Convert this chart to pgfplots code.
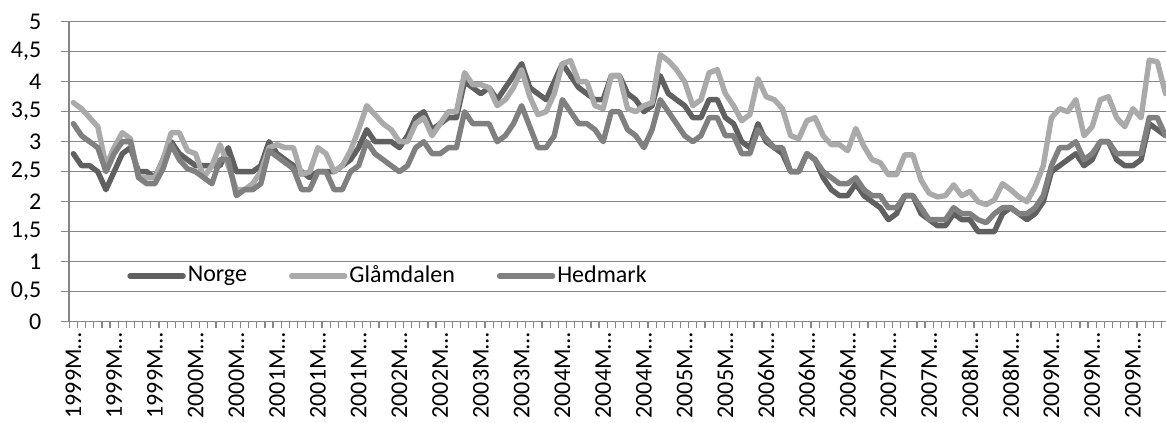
\documentclass[border=0pt]{standalone}
\usepackage{pgfplots}
\pgfplotsset{compat=1.18}
\usepackage{pgfplotstable}
\usepackage{fontspec}
\setmainfont{Carlito}
\usetikzlibrary{calc}

\definecolor{norge}{RGB}{96,96,96}
\definecolor{glam}{RGB}{170,170,170}
\definecolor{hedm}{RGB}{128,128,128}
\definecolor{gridc}{RGB}{134,134,134}

% ledighet i prosent, 1999M01 = 1
\pgfplotstableread{
m N G H
1 2.8 3.65 3.3
2 2.6 3.55 3.1
3 2.6 3.4 3.0
4 2.5 3.25 2.9
5 2.2 2.6 2.5
6 2.5 2.9 2.8
7 2.8 3.15 3.0
8 2.9 3.05 3.0
9 2.5 2.4 2.4
10 2.5 2.4 2.3
11 2.4 2.4 2.3
12 2.7 2.7 2.55
13 3.0 3.15 2.95
14 2.8 3.15 2.7
15 2.7 2.85 2.55
16 2.6 2.8 2.5
17 2.6 2.4 2.4
18 2.6 2.6 2.3
19 2.6 2.95 2.7
20 2.9 2.6 2.7
21 2.5 2.2 2.1
22 2.5 2.2 2.2
23 2.5 2.3 2.2
24 2.6 2.5 2.3
25 3.0 2.9 2.85
26 2.8 2.95 2.75
27 2.7 2.9 2.65
28 2.6 2.9 2.55
29 2.5 2.45 2.2
30 2.4 2.5 2.2
31 2.5 2.9 2.5
32 2.5 2.8 2.5
33 2.5 2.5 2.2
34 2.6 2.6 2.2
35 2.7 2.85 2.5
36 2.9 3.2 2.6
37 3.2 3.6 3.0
38 3.0 3.45 2.8
39 3.0 3.3 2.7
40 3.0 3.2 2.6
41 2.9 3.0 2.5
42 3.1 3.0 2.6
43 3.4 3.3 2.9
44 3.5 3.4 3.0
45 3.2 3.1 2.8
46 3.3 3.3 2.8
47 3.4 3.5 2.9
48 3.4 3.5 2.9
49 4.0 4.15 3.5
50 3.9 3.95 3.3
51 3.8 3.95 3.3
52 3.9 3.9 3.3
53 3.7 3.6 3.0
54 3.9 3.7 3.1
55 4.1 3.9 3.3
56 4.3 4.2 3.6
57 3.9 3.75 3.25
58 3.8 3.45 2.9
59 3.7 3.5 2.9
60 4.0 3.8 3.1
61 4.3 4.3 3.7
62 4.1 4.35 3.5
63 3.9 4.0 3.3
64 3.8 4.0 3.3
65 3.7 3.6 3.2
66 3.7 3.55 3.0
67 4.1 4.1 3.5
68 4.1 4.1 3.5
69 3.8 3.55 3.2
70 3.7 3.5 3.1
71 3.5 3.6 2.9
72 3.6 3.65 3.2
73 4.1 4.45 3.7
74 3.8 4.35 3.5
75 3.7 4.2 3.3
76 3.6 4.0 3.1
77 3.4 3.6 3.0
78 3.4 3.7 3.1
79 3.7 4.15 3.4
80 3.7 4.2 3.4
81 3.4 3.8 3.1
82 3.3 3.6 3.1
83 3.0 3.35 2.8
84 2.9 3.45 2.8
85 3.3 4.05 3.2
86 3.0 3.75 3.05
87 2.9 3.7 2.9
88 2.8 3.55 2.9
89 2.5 3.1 2.5
90 2.5 3.05 2.5
91 2.8 3.35 2.8
92 2.7 3.4 2.7
93 2.4 3.1 2.5
94 2.2 2.95 2.4
95 2.1 2.95 2.3
96 2.1 2.85 2.3
97 2.3 3.22 2.4
98 2.1 2.92 2.2
99 2.0 2.7 2.1
100 1.9 2.65 2.1
101 1.7 2.45 1.9
102 1.8 2.45 1.9
103 2.1 2.78 2.1
104 2.1 2.78 2.1
105 1.8 2.36 1.9
106 1.7 2.14 1.7
107 1.6 2.08 1.7
108 1.6 2.1 1.7
109 1.8 2.28 1.9
110 1.7 2.1 1.8
111 1.7 2.17 1.8
112 1.5 2.0 1.7
113 1.5 1.95 1.65
114 1.5 2.03 1.8
115 1.8 2.3 1.9
116 1.9 2.2 1.9
117 1.8 2.08 1.8
118 1.7 2.0 1.8
119 1.8 2.25 1.9
120 2.0 2.6 2.1
121 2.5 3.4 2.6
122 2.6 3.55 2.9
123 2.7 3.5 2.9
124 2.8 3.7 3.0
125 2.6 3.1 2.7
126 2.7 3.25 2.8
127 3.0 3.7 3.0
128 3.0 3.75 3.0
129 2.7 3.4 2.8
130 2.6 3.25 2.8
131 2.6 3.55 2.8
132 2.7 3.4 2.8
133 3.3 4.36 3.4
134 3.2 4.33 3.4
135 3.1 3.8 3.1
}\ledighet

\begin{document}
\fontsize{12}{14}\selectfont
\begin{tikzpicture}
\begin{axis}[
  name=ax,
  at={(0,0)}, anchor=south west,
  scale only axis,
  width=548.35pt, height=150pt,
  xmin=0.5, xmax=135.06,
  ymin=0, ymax=5,
  axis x line*=bottom, axis y line*=left,
  axis line style={draw=gridc, line width=0.8pt},
  tick align=outside,
  major tick length=4.3pt,
  minor tick length=3.3pt,
  ytick={0,0.5,...,5},
  ymajorgrids,
  grid style={draw=gridc, line width=0.6pt},
  ytick style={draw=gridc, line width=0.6pt},
  yticklabel style={inner sep=0pt, xshift=-9.5pt, text=black},
  /pgf/number format/.cd, use comma, assume math mode=true, fixed,
  /pgfplots/.cd,
  xtick={1,6,...,131},
  xticklabels={1999M…,1999M…,1999M…,2000M…,2000M…,2001M…,2001M…,2001M…,2002M…,2002M…,2003M…,2003M…,2004M…,2004M…,2004M…,2005M…,2005M…,2006M…,2006M…,2006M…,2007M…,2007M…,2008M…,2008M…,2009M…,2009M…,2009M…},
  major x tick style={draw=none},
  minor xtick={0.5,1.5,...,135.5},
  minor x tick style={draw=gridc, line width=0.6pt},
  xticklabel style={rotate=90, anchor=east, inner xsep=1pt, inner ysep=0pt, text=black},
  legend columns=3,
  legend style={draw=none, fill=none, inner sep=0pt,
    at={(0.0526,0.152)}, anchor=west,
    nodes={inner sep=1pt},
    /tikz/every even column/.append style={column sep=20pt}},
  legend image code/.code={\draw[#1] (0pt,0pt) -- (26.5pt,0pt);},
  every axis plot/.append style={line width=2.7pt, line join=round, line cap=round, mark=none},
]
\addplot[norge] table[x=m, y=N] {\ledighet};
\addlegendentry{Norge}
\addplot[glam] table[x=m, y=G] {\ledighet};
\addlegendentry{Glåmdalen\hspace{5pt}}
\addplot[hedm] table[x=m, y=H] {\ledighet};
\addlegendentry{Hedmark}
\end{axis}
\pgfresetboundingbox
\path[use as bounding box] ($(ax.south west)+(-34.65pt,-50.65pt)$) rectangle ($(ax.north east)+(0pt,10.85pt)$);
\end{tikzpicture}
\end{document}
